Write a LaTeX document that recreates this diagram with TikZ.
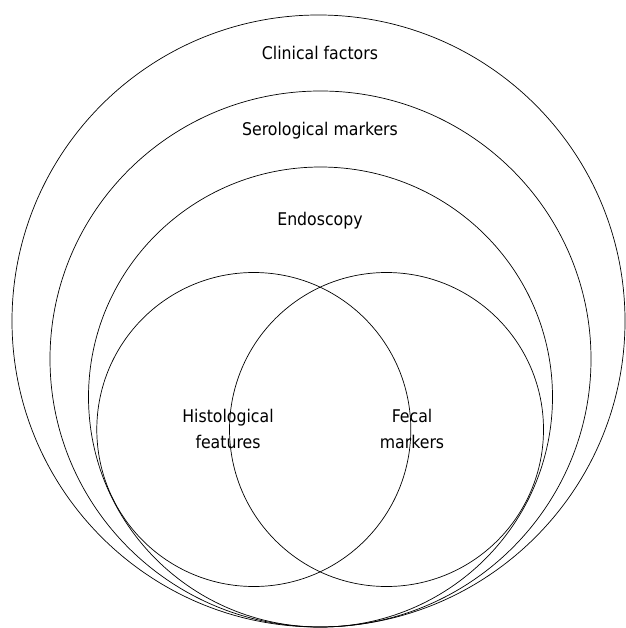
\documentclass[tikz,border=0pt]{standalone}
\usepackage{fontspec}
\setmainfont{DejaVu Sans Condensed}
\begin{document}
\begin{tikzpicture}[x=1pt,y=-1pt,
  ring/.style={draw=black,line width=0.7pt},
  lbl/.style={inner sep=0pt,font=\fontsize{17.5}{26}\selectfont,align=center}]
\useasboundingbox (0,0) rectangle (625,628);
% outer sets
\draw[ring] (318.5,321) ellipse [x radius=306.5, y radius=306];
\draw[ring] (320.5,359) ellipse [x radius=270.5, y radius=268];
\draw[ring] (320.5,397) ellipse [x radius=232, y radius=230];
% inner Venn circles
\draw[ring] (253.8,429.5) circle [radius=157];
\draw[ring] (386.5,429.5) circle [radius=157];
% labels
\node[lbl,anchor=base] (clin) at (320,59.5) {Clinical factors};
\node[lbl,anchor=base] (sero) at (320,135.5) {Serological markers};
\node[lbl,anchor=base] (endo) at (320,225.5) {Endoscopy};
\node[lbl] (hist) at (228,429) {Histological\\features};
\node[lbl] (fecal) at (412,429) {Fecal\\markers};
\end{tikzpicture}
\end{document}
